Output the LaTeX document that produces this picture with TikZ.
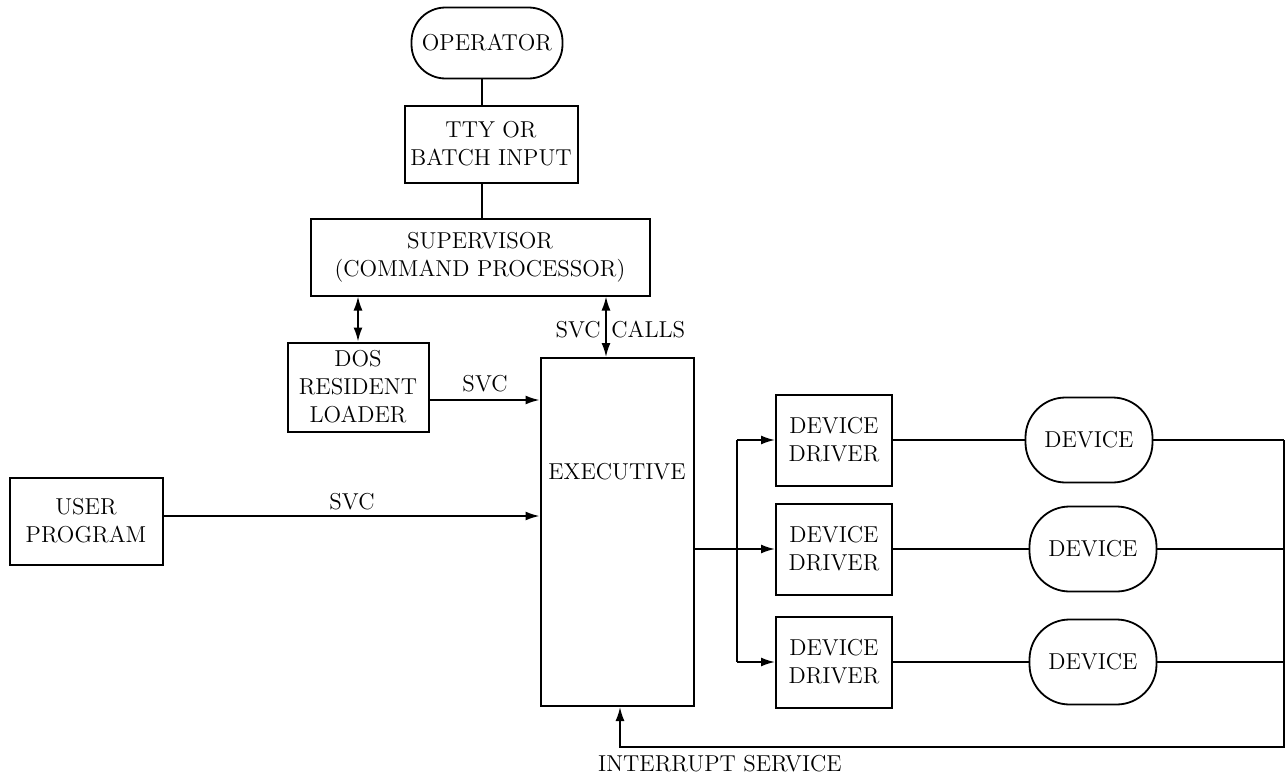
\documentclass[tikz,border=0pt]{standalone}
\usetikzlibrary{arrows.meta}
\begin{document}
\begin{tikzpicture}[x=0.5pt,y=-0.5pt,
  every node/.style={font=\fontsize{11.5}{14}\selectfont, align=center, inner sep=0pt},
  box/.style={draw, line width=1pt},
  term/.style={draw, line width=0.9pt, rounded corners=17pt},
  ln/.style={line width=0.9pt},
  arr/.style={line width=0.9pt, -{Latex[length=7pt,width=4.5pt]}},
  darr/.style={line width=0.9pt, {Latex[length=7pt,width=4.5pt]}-{Latex[length=7pt,width=4.5pt]}}]
\useasboundingbox (0,0) rectangle (1286,776);
% nodes
\node[term, minimum width=75.5pt, minimum height=35.5pt] (op) at (487,43) {OPERATOR};
\node[box, minimum width=86.5pt, minimum height=38.5pt] (tty) at (491,144) {TTY OR\\BATCH INPUT};
\node[box, minimum width=169.5pt, minimum height=38.5pt] (sup) at (480,257) {SUPERVISOR\\(COMMAND PROCESSOR)};
\node[box, minimum width=70.5pt, minimum height=44.5pt] (dos) at (358,387) {DOS\\RESIDENT\\LOADER};
\node[box, minimum width=76.5pt, minimum height=174pt] (exe) at (617,532) {};
\node (exel) at (617,472) {EXECUTIVE};
\node[box, minimum width=76.5pt, minimum height=43.5pt] (user) at (86,521) {USER\\PROGRAM};
\node[box, minimum width=58pt, minimum height=45.5pt] (dd1) at (834,440) {DEVICE\\DRIVER};
\node[box, minimum width=58pt, minimum height=45.5pt] (dd2) at (834,549) {DEVICE\\DRIVER};
\node[box, minimum width=58pt, minimum height=45.5pt] (dd3) at (834,662) {DEVICE\\DRIVER};
\node[term, rounded corners=20pt, minimum width=63.5pt, minimum height=42.5pt] (dev1) at (1089,440) {DEVICE};
\node[term, rounded corners=20pt, minimum width=63.5pt, minimum height=42.5pt] (dev2) at (1093,549) {DEVICE};
\node[term, rounded corners=20pt, minimum width=63.5pt, minimum height=42.5pt] (dev3) at (1093,662) {DEVICE};
% coordinates
\coordinate (lb) at (737,0);
\coordinate (rb) at (1284,0);
\coordinate (ib) at (620,747);
% connectors
\draw[ln] (op.south -| 482,0) -- (tty.north -| 482,0);
\draw[ln] (tty.south -| 482,0) -- (sup.north -| 482,0);
\draw[darr] (sup.south -| dos.north) -- (dos.north);
\draw[darr] (sup.south -| 606,0) -- (exe.north -| 606,0);
\node[anchor=east] (svcl) at (601,330) {SVC};
\node[anchor=west] (calls) at (611,330) {CALLS};
\draw[arr] (dos.east |- 0,400) -- (exe.west |- 0,400);
\node (svc1) at (485,384) {SVC};
\draw[arr] (user.east |- 0,516) -- (exe.west |- 0,516);
\node (svc2) at (352,502) {SVC};
\draw[arr] (exe.east |- dd2.west) -- (dd2.west);
\draw[ln] (lb |- dd1.west) -- (lb |- dd3.west);
\draw[arr] (lb |- dd1.west) -- (dd1.west);
\draw[arr] (lb |- dd3.west) -- (dd3.west);
\draw[ln] (dd1.east) -- (dev1.west);
\draw[ln] (dd2.east) -- (dev2.west);
\draw[ln] (dd3.east) -- (dev3.west);
\draw[ln] (dev1.east) -- (rb |- dev1.east);
\draw[ln] (dev2.east) -- (rb |- dev2.east);
\draw[ln] (dev3.east) -- (rb |- dev3.east);
\draw[arr] (rb |- dev1.east) |- (ib) -- (ib |- exe.south);
\node (intl) at (720,764) {INTERRUPT SERVICE};
\end{tikzpicture}
\end{document}
